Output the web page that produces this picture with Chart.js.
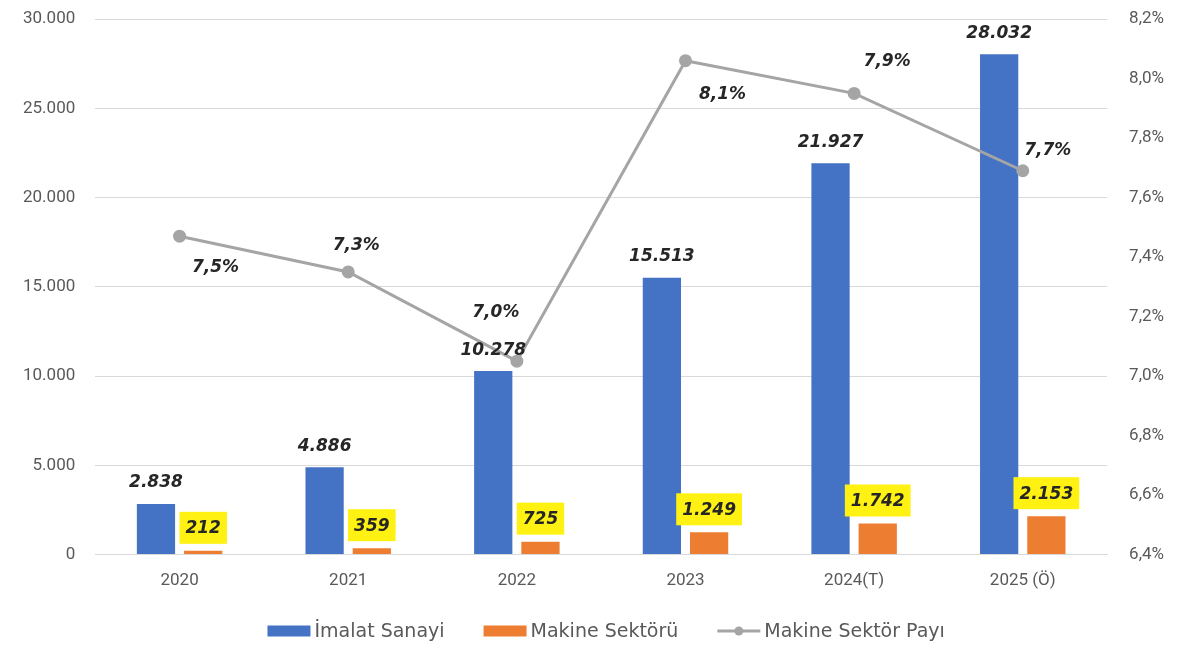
<!DOCTYPE html>
<html>
<head>
<meta charset="utf-8">
<script src="https://cdn.jsdelivr.net/npm/chart.js@4"></script>
<style>
  html, body { margin: 0; padding: 0; background: #fff; }
  #wrap { width: 1179px; height: 645px; }
</style>
</head>
<body>
<div id="wrap"><canvas id="myChart"></canvas></div>
<script>
// values
const years = ['2020', '2021', '2022', '2023', '2024(T)', '2025 (Ö)'];
const imalat = [2838, 4886, 10278, 15513, 21927, 28032];
const makine = [212, 359, 725, 1249, 1742, 2153];
const pay = [7.47, 7.35, 7.05, 8.06, 7.95, 7.69];
const payLabels = ['7,5%', '7,3%', '7,0%', '8,1%', '7,9%', '7,7%'];

const fmt = v => v.toString().replace(/\B(?=(\d{3})+(?!\d))/g, '.');

// where each share label sits relative to its point
const payOffsets = [[36, 31], [8, -26], [-21, -49], [37, 34], [33, -32], [25, -20]];
const labelFont = 'italic bold 17px "DejaVu Sans"';
const tickFont = { family: 'Roboto', size: 17 };

const valueLabels = {
  id: 'valueLabels',
  afterDatasetsDraw(chart) {
    const ctx = chart.ctx;
    ctx.save();
    ctx.font = labelFont;
    ctx.textAlign = 'center';
    ctx.textBaseline = 'middle';

    chart.getDatasetMeta(0).data.forEach((bar, i) => {
      ctx.fillStyle = '#262626';
      ctx.fillText(fmt(imalat[i]), bar.x, bar.y - 21);
    });

    chart.getDatasetMeta(1).data.forEach((bar, i) => {
      const txt = fmt(makine[i]);
      const w = ctx.measureText(txt).width + 12;
      const h = 32;
      const cy = bar.y - 7 - h / 2;
      ctx.fillStyle = '#FFF212';
      ctx.fillRect(bar.x - w / 2, cy - h / 2, w, h);
      ctx.fillStyle = '#262626';
      ctx.fillText(txt, bar.x, cy + 1);
    });

    chart.getDatasetMeta(2).data.forEach((pt, i) => {
      ctx.fillStyle = '#262626';
      ctx.fillText(payLabels[i], pt.x + payOffsets[i][0], pt.y + payOffsets[i][1]);
    });
    ctx.restore();
  }
};

// hand drawn legend, so the spacing can follow the original
const bottomLegend = {
  id: 'bottomLegend',
  afterDraw(chart) {
    const ctx = chart.ctx;
    const sets = chart.data.datasets;
    const boxW = 43, gapText = 4, gapItem = 39;
    ctx.save();
    ctx.font = '19px "DejaVu Sans"';
    ctx.textBaseline = 'middle';
    const widths = sets.map(ds => boxW + gapText + ctx.measureText(ds.label).width);
    const total = widths.reduce((a, b) => a + b, 0) + gapItem * (sets.length - 1);
    const area = chart.chartArea;
    let x = (area.left + area.right) / 2 + 5 - total / 2;
    const y = 631;
    sets.forEach((ds, i) => {
      if (ds.type === 'line') {
        ctx.strokeStyle = ds.borderColor;
        ctx.lineWidth = 3;
        ctx.beginPath();
        ctx.moveTo(x, y);
        ctx.lineTo(x + boxW, y);
        ctx.stroke();
        ctx.fillStyle = ds.borderColor;
        ctx.beginPath();
        ctx.arc(x + boxW / 2, y, 4.5, 0, Math.PI * 2);
        ctx.fill();
      } else {
        ctx.fillStyle = ds.backgroundColor;
        ctx.fillRect(x, y - 5.5, boxW, 11);
      }
      ctx.fillStyle = '#595959';
      ctx.fillText(ds.label, x + boxW + gapText, y + 1);
      x += widths[i] + gapItem;
    });
    ctx.restore();
  }
};

// keep the tick padding from pushing the plot down from the top
const noVertPad = scale => { scale.paddingTop = 0; scale.paddingBottom = 0; };

var ctx = document.getElementById('myChart').getContext('2d');
var myChart = new Chart(ctx, {
  type: 'bar',
  data: {
    labels: years,
    datasets: [{
      label: 'İmalat Sanayi',
      data: imalat,
      backgroundColor: '#4472C4',
      yAxisID: 'y',
      order: 1
    }, {
      label: 'Makine Sektörü',
      data: makine,
      backgroundColor: '#ED7D31',
      yAxisID: 'y',
      order: 1
    }, {
      type: 'line',
      label: 'Makine Sektör Payı',
      data: pay,
      borderColor: '#A5A5A5',
      backgroundColor: '#A5A5A5',
      borderWidth: 3,
      pointRadius: 5,
      pointHoverRadius: 5,
      tension: 0,
      yAxisID: 'y1',
      order: 0
    }]
  },
  options: {
    responsive: true,
    maintainAspectRatio: false,
    animation: false,
    datasets: {
      bar: { barPercentage: 0.81, categoryPercentage: 0.56 }
    },
    layout: { padding: { left: 3, right: -7, top: 19, bottom: 46 } },
    scales: {
      x: {
        grid: { display: false },
        border: { display: true, color: '#D9D9D9', width: 1 },
        ticks: { color: '#595959', font: tickFont, padding: 8 }
      },
      y: {
        position: 'left',
        min: 0,
        max: 30000,
        afterFit: noVertPad,
        ticks: {
          stepSize: 5000,
          color: '#595959',
          font: tickFont,
          padding: 20,
          callback: v => fmt(v)
        },
        grid: { color: '#D9D9D9', drawTicks: false },
        border: { display: false }
      },
      y1: {
        position: 'right',
        min: 6.4,
        max: 8.2,
        afterFit: noVertPad,
        ticks: {
          stepSize: 0.2,
          color: '#595959',
          font: tickFont,
          padding: 22,
          callback: v => v.toFixed(1).replace('.', ',') + '%'
        },
        grid: { display: false, drawTicks: false },
        border: { display: false }
      }
    },
    plugins: {
      tooltip: { enabled: false },
      legend: { display: false }
    }
  },
  plugins: [valueLabels, bottomLegend]
});
</script>
</body>
</html>
